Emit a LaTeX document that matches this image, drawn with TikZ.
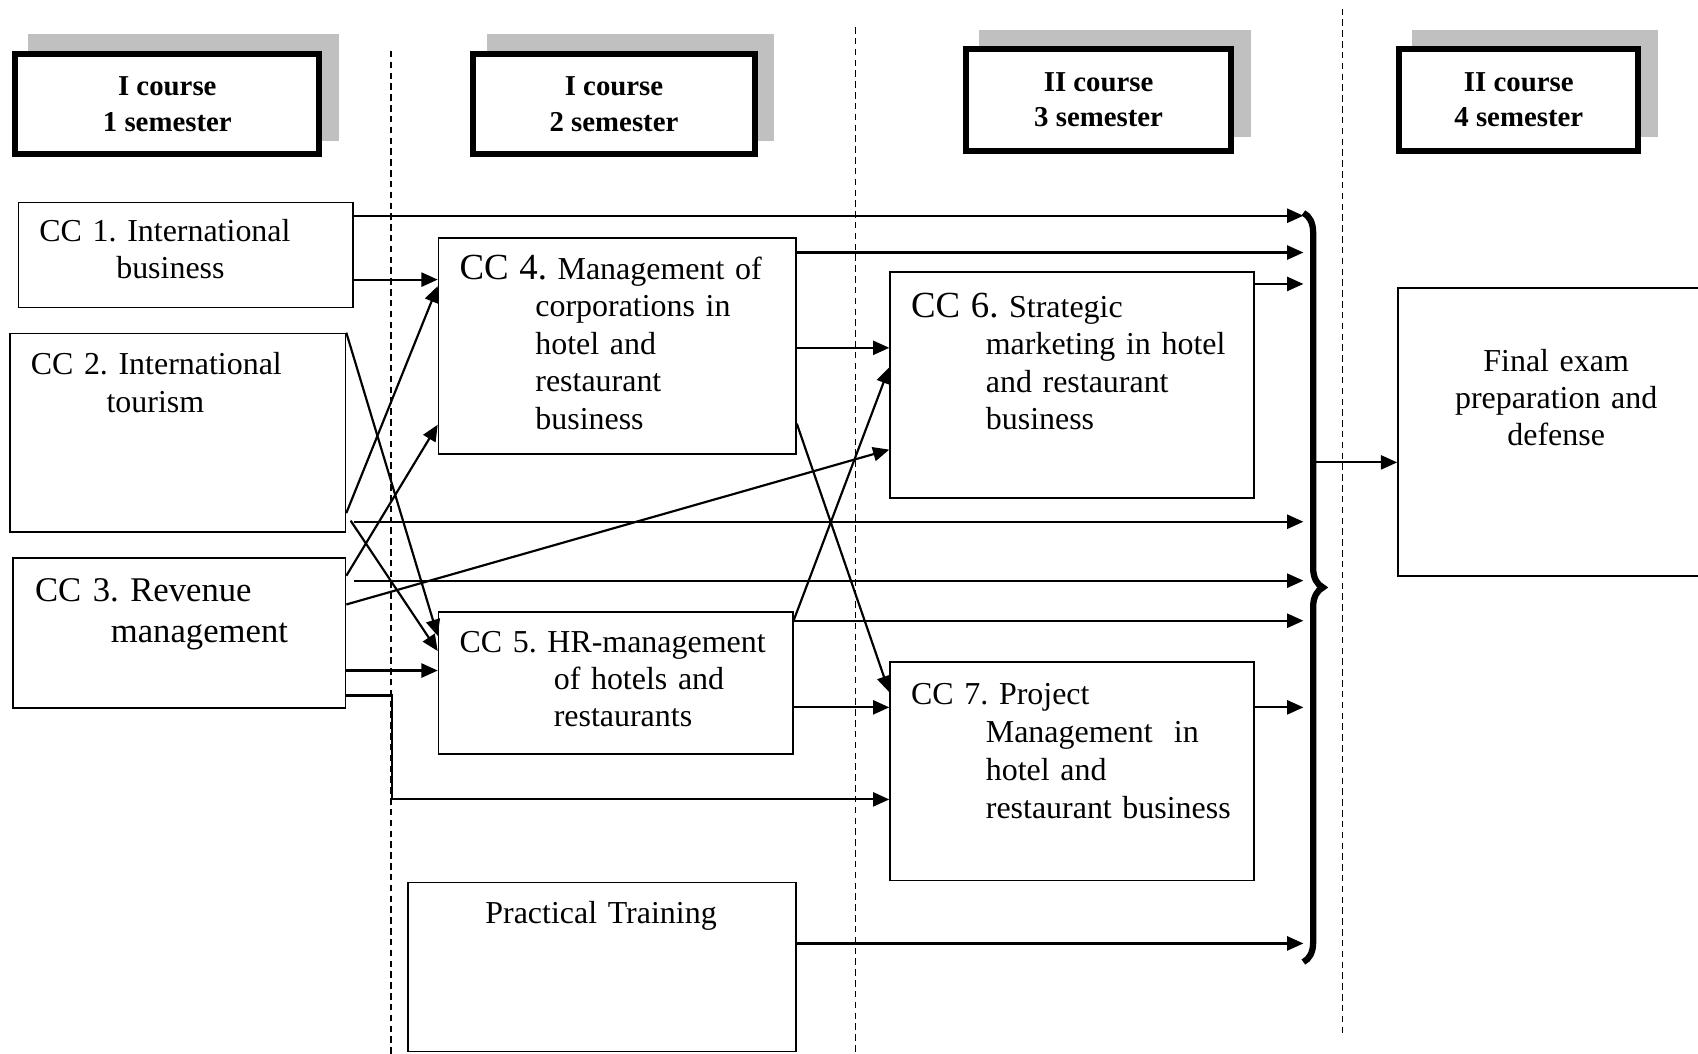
\documentclass[tikz,border=0pt]{standalone}
\usepackage{fontspec}
\setmainfont{Liberation Serif}
\frenchspacing
\usetikzlibrary{arrows.meta,decorations.pathreplacing,shadows}
\definecolor{shadowgray}{RGB}{192,192,192}
\begin{document}
\begin{tikzpicture}[x=0.5pt,y=-0.5pt,
  box/.style={draw,line width=0.8pt,inner sep=0,fill=white},
  head/.style={draw,line width=2.75pt,inner sep=0,fill=white,align=center,
    font=\bfseries\fontsize{13.3}{16.5}\selectfont,
    general shadow={fill=shadowgray,draw=shadowgray,line width=2.75pt,shadow xshift=7.5pt,shadow yshift=7.5pt}},
  txt/.style={font=\fontsize{14.75}{17.3}\selectfont,inner sep=0,text width=220pt,align=left,anchor=base west},
  ctxt/.style={font=\fontsize{14.75}{17}\selectfont,inner sep=0,text width=200pt,align=center,anchor=base},
  arr/.style={-{Triangle[length=7.5pt,width=6.5pt]},line width=1pt,line join=miter},
  dashline/.style={line width=0.6pt,dash pattern=on 3pt off 2pt},
  bracestyle/.style={line width=2.9pt,decorate,decoration={brace,amplitude=9pt}}]
\useasboundingbox (0,0) rectangle (1568,973);
\clip (0,0) rectangle (1568,973);

% separators
\draw[dashline] (361,47) -- (361,973);
\draw[dashline] (790,25) -- (790,973);
\draw[dashline] (1240,8) -- (1240,956);

% headers
\node[head,minimum width=140.5pt,minimum height=46.5pt] (h1) at (154.5,96) {I course\\1 semester};
\node[head,minimum width=130pt,minimum height=46.5pt] (h2) at (567,96) {I course\\2 semester};
\node[head,minimum width=122.5pt,minimum height=47pt] (h3) at (1014.5,92) {II course\\3 semester};
\node[head,minimum width=110.5pt,minimum height=47pt] (h4) at (1402.5,92) {II course\\4 semester};

% boxes
\node[box,minimum width=154.5pt,minimum height=48.5pt] (cc1) at (171.5,235.5) {};
\node[box,minimum width=155pt,minimum height=91.5pt] (cc2) at (164,399.5) {};
\node[box,minimum width=153.5pt,minimum height=69.5pt] (cc3) at (165.5,584.5) {};
\node[box,minimum width=165pt,minimum height=99.5pt] (cc4) at (570,319.5) {};
\node[box,minimum width=163.5pt,minimum height=65.5pt] (cc5) at (568.5,630.5) {};
\node[box,minimum width=168pt,minimum height=104.5pt] (cc6) at (990,355.5) {};
\node[box,minimum width=168pt,minimum height=101pt] (cc7) at (990,712) {};
\node[box,minimum width=179pt,minimum height=78pt] (pt) at (556,893) {};
\node[box,minimum width=174.5pt,minimum height=133pt] (final) at (1465.5,399) {};

% texts
\node[txt] (t1) at (36,223) {CC 1. International\\\hspace*{35.5pt}business};
\node[txt] (t2) at (28,346) {CC 2. International\\\hspace*{35pt}tourism};
\node[txt,font=\fontsize{16}{19}\selectfont] (t3) at (32,555) {CC 3. Revenue\\\hspace*{35pt}management};
\node[txt] (t4) at (424,258) {{\fontsize{17}{17.3}\selectfont CC 4.} Management of\\\hspace*{35pt}corporations in\\\hspace*{35pt}hotel and\\\hspace*{35pt}restaurant\\\hspace*{35pt}business};
\node[txt,font=\fontsize{14.75}{17}\selectfont] (t5) at (424,603) {CC 5. HR-management\\\hspace*{43.5pt}of hotels and\\\hspace*{43.5pt}restaurants};
\node[txt] (t6) at (841,293) {{\fontsize{17}{17.3}\selectfont CC 6.} Strategic\\\hspace*{34.5pt}marketing in hotel\\\hspace*{34.5pt}and restaurant\\\hspace*{34.5pt}business};
\node[txt,font=\fontsize{14.75}{17.5}\selectfont] (t7) at (841,651) {CC 7. Project\\\hspace*{34.5pt}Management~~in\\\hspace*{34.5pt}hotel and\\\hspace*{34.5pt}restaurant business};
\node[ctxt] (t8) at (555,853) {Practical Training};
\node[ctxt] (t9) at (1437,343) {Final exam\\preparation and\\defense};

% brace
\node[inner sep=0,minimum width=9pt,minimum height=345.5pt] (brace) at (1213,542.5) {};
\draw[bracestyle] (brace.north west) -- (brace.south west);

% arrows into the brace
\draw[arr] ([yshift=-6.5pt]cc1.north east) coordinate (a1) -- (a1 -| brace.west);
\draw[arr] ([yshift=-7pt]cc4.north east) coordinate (a2) -- (a2 -| brace.west);
\draw[arr] ([yshift=-6pt]cc6.north east) coordinate (a3) -- (a3 -| brace.west);
\draw[arr] ([xshift=3.5pt,yshift=5pt]cc2.south east) coordinate (a4) -- (a4 -| brace.west);
\draw[arr] ([xshift=3.5pt,yshift=-11pt]cc3.north east) coordinate (a5) -- (a5 -| brace.west);
\draw[arr] ([yshift=-4.5pt]cc5.north east) coordinate (a6) -- (a6 -| brace.west);
\draw[arr] ([yshift=-21.5pt]cc7.north east) coordinate (a7) -- (a7 -| brace.west);
\draw[arr] ([yshift=-28.5pt]pt.north east) coordinate (a8) -- (a8 -| brace.west);

% horizontal arrows between boxes
\draw[arr] ([yshift=-36pt]cc1.north east) coordinate (b1) -- (b1 -| cc4.west);
\draw[arr] ([yshift=-51pt]cc4.north east) coordinate (b2) -- (b2 -| cc6.west);
\draw[arr] ([yshift=-44.5pt]cc5.north east) coordinate (b3) -- (b3 -| cc7.west);
\draw[arr] ([yshift=-52.5pt]cc3.north east) coordinate (b4) -- (b4 -| cc5.west);
\draw[arr] ([yshift=-64pt]cc3.north east) -- ++(21pt,0) |- ([yshift=-64pt]cc7.north west);

% diagonal arrows
\draw[arr] (cc2.north east) -- ([yshift=-11.5pt]cc5.north west);
\draw[arr] ([yshift=9pt]cc2.south east) -- ([yshift=-22.5pt]cc4.north west);
\draw[arr] ([xshift=2pt,yshift=5.5pt]cc2.south east) -- ([yshift=-18.5pt]cc5.north west);
\draw[arr] ([yshift=-8.75pt]cc3.north east) -- ([yshift=-86.5pt]cc4.north west);
\draw[arr] ([yshift=-22pt]cc3.north east) -- ([yshift=-82.5pt]cc6.north west);
\draw[arr] ([yshift=-86pt]cc4.north east) -- ([yshift=-14.5pt]cc7.north west);
\draw[arr] ([yshift=-4.5pt]cc5.north east) -- ([yshift=-44.5pt]cc6.north west);

% brace to final exam
\draw[arr] ([yshift=57.75pt]brace.center) coordinate (c1) -- (c1 -| final.west);
\end{tikzpicture}
\end{document}
